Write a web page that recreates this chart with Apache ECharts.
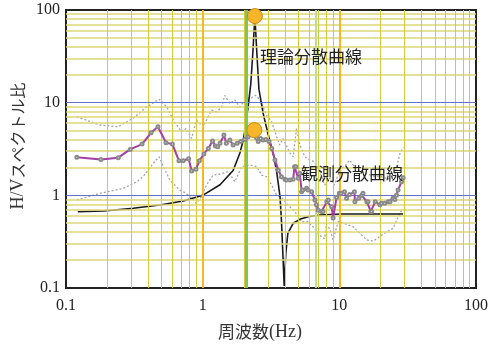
<!DOCTYPE html>
<html><head><meta charset="utf-8">
<script src="https://cdn.jsdelivr.net/npm/echarts@6/dist/echarts.min.js"></script>
<style>html,body{margin:0;padding:0;background:#fff}#c{width:491px;height:345px}</style>
</head><body><div id="c"></div>
<script>
// ---- data ----
const axisTicks = [0.1, 1, 10, 100];
const minorMultipliers = [2, 3, 4, 5, 6, 7, 8, 9];
const majorBlueY = [1, 10];
const majorOrangeX = [1, 10];
const greenX = [2.08];
const lightGreenX = [6.75];

const observed = [
  [0.12,2.57],[0.18,2.44],[0.241,2.55],[0.295,3.13],[0.36,3.57],[0.419,4.73],[0.471,5.5],
  [0.539,3.69],[0.6,3.57],[0.671,2.36],[0.721,2.36],[0.79,2.48],[0.831,1.83],[0.893,1.91],
  [0.945,2.36],[1.02,2.79],[1.1,3.21],[1.18,3.85],[1.24,3.4],[1.29,3.35],[1.34,3.64],[1.43,4.47],
  [1.49,3.64],[1.58,3.95],[1.67,3.49],[1.79,3.64],[1.9,3.8],[2.04,4.0],[2.15,4.3],[2.25,4.6],
  [2.35,5.0],[2.48,4.15],[2.55,3.8],[2.65,4.1],[2.77,3.95],[2.9,4.0],[3.06,3.8],[3.2,3.21],
  [3.38,2.4],[3.58,1.87],[3.77,1.59],[4.0,1.49],[4.1,1.46],[4.34,1.46],[4.59,1.49],[4.7,2.04],
  [4.81,2.04],[5.0,1.53],[5.14,1.73],[5.3,1.09],[5.4,1.14],[5.76,1.19],[5.9,1.14],[6.27,1.09],
  [6.63,0.89],[6.8,0.79],[7.0,0.69],[7.4,0.67],[7.6,0.67],[8.1,0.85],[8.3,0.89],[8.78,0.754],
  [9.0,0.57],[9.55,0.95],[10.0,1.05],[10.3,1.05],[10.9,1.09],[11.3,0.93],[11.9,1.02],[12.9,1.09],
  [13.0,0.85],[13.9,0.93],[14.6,1.0],[14.9,1.05],[15.9,0.85],[16.2,0.85],[17.0,0.67],[17.2,0.67],
  [18.3,0.85],[19.8,0.79],[20.3,0.82],[21.5,0.82],[22.8,0.85],[23.5,0.85],[24.7,0.93],[25.5,0.9],
  [26.2,1.0],[26.9,1.14],[28.5,1.4],[29.3,1.55]
];
const theoretical = [
  [0.122,0.665],[0.188,0.677],[0.31,0.724],[0.487,0.786],[0.721,0.868],[1.0,1.0],[1.34,1.3],
  [1.67,1.85],[1.87,2.84],[1.98,3.95],[2.06,5.5],[2.15,9.0],[2.25,16],[2.33,35],[2.41,86],
  [2.49,35],[2.58,14],[2.77,7.67],[3.0,4.66],[3.3,2.72],[3.48,1.8],[3.68,0.97],[3.77,0.54],
  [3.87,0.217],[3.95,0.105],[4.06,0.237],[4.2,0.389],[4.59,0.499],[5.14,0.551],[5.9,0.588],
  [7.2,0.613],[10.1,0.629],[29.3,0.629]
];
const upperBound = [
  [0.12,7.05],[0.177,5.73],[0.241,5.5],[0.31,6.8],[0.39,9.0],[0.48,10.9],[0.546,9.0],[0.61,6.47],
  [0.7,4.85],[0.76,5.27],[0.83,4.12],[0.9,6.47],[1.01,5.5],[1.16,8.3],[1.27,7.97],[1.38,9.0],
  [1.45,12],[1.58,9.8],[1.72,10.7],[1.87,9.0],[2.04,10.7],[2.2,11],[2.45,12],[2.65,10.5],
  [2.93,7.35],[3.2,6.2],[3.48,4.3],[3.66,3.5],[3.87,4.1],[4.2,3.2],[4.36,2.84],[4.6,2.6],
  [4.86,5.27],[5.14,3.49],[5.6,2.6],[6.1,2.4],[6.6,2.3],[7.2,1.8],[7.8,1.29],[8.5,1.53],
  [9.2,1.29],[10.1,1.87],[10.9,2.04],[11.9,2.4],[13,2.0],[14.5,1.8],[16,1.7],[18,1.6],[20,1.6],
  [22.8,1.5],[25.5,1.7],[27.8,2.84],[29.3,3.3]
];
const lowerBound = [
  [0.12,0.89],[0.177,1.05],[0.263,1.19],[0.33,1.4],[0.368,1.6],[0.435,2.21],[0.48,2.6],[0.516,2.04],
  [0.576,1.46],[0.68,1.14],[0.76,1.05],[0.85,0.9],[0.9,0.82],[0.97,0.95],[1.07,1.3],[1.19,1.65],
  [1.35,1.7],[1.54,1.8],[1.72,1.4],[1.93,2.04],[2.22,2.12],[2.49,2.04],[2.7,1.65],[2.93,1.59],
  [3.2,1.29],[3.48,1.0],[3.77,0.95],[4.2,0.79],[4.7,0.67],[5.3,0.52],[5.9,0.52],[6.4,0.46],
  [7.2,0.37],[7.8,0.34],[8.0,0.46],[8.5,0.44],[9.0,0.33],[9.8,0.52],[10.7,0.5],[12.6,0.46],
  [14.1,0.39],[15.9,0.33],[17.7,0.32],[19.8,0.36],[22.3,0.405],[24.7,0.44],[27.0,0.59],[28.5,0.69]
];
const peakMarkers = [[2.41,86],[2.39,5.06]];
const labelTheory = '理論分散曲線';
const labelObserved = '観測分散曲線';
const xTitle = '周波数';
const xUnit = '(Hz)';
const yTitleA = 'H/V';
const yTitleB = 'スペクトル比';

// ---- build ----
const decades = [0.1, 1, 10];
const minorVals = [];
decades.forEach(d => minorMultipliers.forEach(m => minorVals.push(+(d * m).toPrecision(3))));

function vline(x, color, width) {
  return {xAxis: x, lineStyle: {color: color, width: width, type: 'solid', opacity: 1}};
}
function hline(y, color, width) {
  return {yAxis: y, lineStyle: {color: color, width: width, type: 'solid', opacity: 1}};
}
const gridLines = [];
minorVals.forEach(v => gridLines.push(hline(v, '#dcd778', 1.5)));
minorVals.forEach(v => gridLines.push(vline(v, '#d3cb3a', 1)));
majorBlueY.forEach(v => gridLines.push(hline(v, '#6470c6', 1)));
lightGreenX.forEach(v => gridLines.push(vline(v, '#b9dea0', 2)));
greenX.forEach(v => gridLines.push(vline(v, '#7ec65c', 3)));
majorOrangeX.forEach(v => gridLines.push(vline(v, '#f7b81e', 2)));

const serif = 'Liberation Serif';
const cjk = 'Noto Sans CJK JP';
const tickFmt = v => { const t = axisTicks.find(a => Math.abs(a - v) / a < 1e-6); return t === undefined ? '' : String(t); };

const chart = echarts.init(document.getElementById('c'), null, {renderer: 'canvas'});
chart.setOption({
  animation: false,
  backgroundColor: '#fff',
  grid: {left: 66, top: 10, right: 15, bottom: 57, show: true, borderColor: '#222', borderWidth: 2, backgroundColor: 'transparent'},
  xAxis: {
    type: 'log', logBase: 10, min: 0.1, max: 100,
    axisLine: {show: true, lineStyle: {color: '#222', width: 2}},
    axisTick: {show: false}, splitLine: {show: false}, minorTick: {show: false},
    axisLabel: {fontFamily: serif, fontSize: 16, color: '#222', margin: 10, formatter: tickFmt}
  },
  yAxis: {
    type: 'log', logBase: 10, min: 0.1, max: 100,
    axisLine: {show: true, lineStyle: {color: '#222', width: 2}},
    axisTick: {show: false}, splitLine: {show: false}, minorTick: {show: false},
    axisLabel: {fontFamily: serif, fontSize: 16, color: '#222', margin: 6, formatter: tickFmt}
  },
  series: [
    {type: 'line', data: [[0.1, 0.1]], symbol: 'none', z: 1, silent: true, lineStyle: {width: 0},
      markLine: {silent: true, symbol: ['none', 'none'], label: {show: false}, animation: false,
        emphasis: {disabled: true}, data: gridLines}},
    {type: 'line', data: upperBound, symbol: 'none', z: 3, silent: true, lineStyle: {color: '#a3a3a3', width: 1.3, type: [2, 2]}},
    {type: 'line', data: lowerBound, symbol: 'none', z: 3, silent: true, lineStyle: {color: '#a3a3a3', width: 1.3, type: [2, 2]}},
    {type: 'line', data: theoretical, symbol: 'none', z: 4, silent: true, lineStyle: {color: '#1a1a1a', width: 1.6}},
    {type: 'line', data: observed, symbol: 'emptyCircle', symbolSize: 3, showAllSymbol: true, z: 5, silent: true,
      lineStyle: {color: '#a43fa8', width: 2}, itemStyle: {color: '#8a8a8a', borderWidth: 0.8}},
    {type: 'scatter', data: peakMarkers, symbol: 'circle', symbolSize: 15, z: 6, silent: true,
      itemStyle: {color: '#f6b52a', borderColor: '#c98c10', borderWidth: 1, opacity: 1}}
  ],
  graphic: [
    {type: 'text', x: 311, y: 57, z: 10, style: {text: labelTheory, font: '17px "' + cjk + '"', fill: '#222', align: 'center', verticalAlign: 'middle'}},
    {type: 'text', x: 352, y: 174, z: 10, style: {text: labelObserved, font: '17px "' + cjk + '"', fill: '#222', align: 'center', verticalAlign: 'middle'}},
    {type: 'text', x: 260, y: 332, z: 10, style: {
      text: '{a|' + xTitle + '}{b|' + xUnit + '}', align: 'center', verticalAlign: 'middle',
      rich: {a: {fontFamily: cjk, fontSize: 17, fill: '#333', color: '#333'}, b: {fontFamily: serif, fontSize: 18, fill: '#333', color: '#333'}}}},
    {type: 'text', x: 18, y: 146, rotation: Math.PI / 2, z: 10, style: {
      text: '{a|' + yTitleA + '}{b|' + yTitleB + '}', align: 'center', verticalAlign: 'middle',
      rich: {a: {fontFamily: serif, fontSize: 18, fill: '#333', color: '#333'}, b: {fontFamily: cjk, fontSize: 16, fill: '#333', color: '#333'}}}}
  ]
});
</script></body></html>
